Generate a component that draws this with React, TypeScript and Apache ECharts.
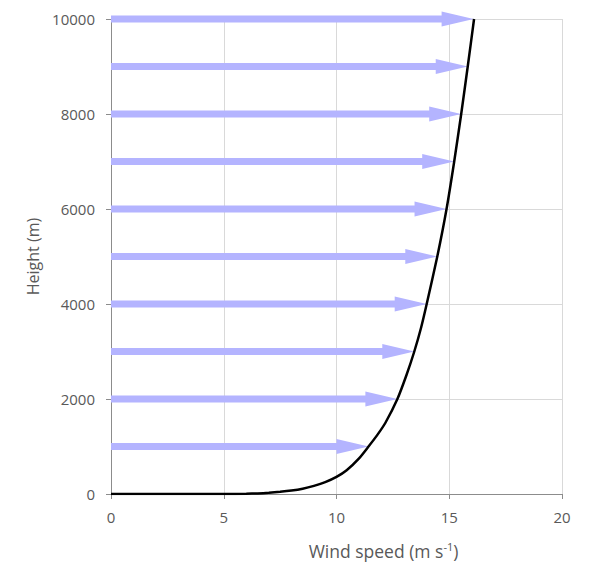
import React, { useEffect, useRef } from "react";
import * as echarts from "echarts";

const profileSpeed = [0, 3, 5, 6, 6.5, 7, 7.5, 8, 8.5, 9, 9.5, 10, 10.45, 11.0, 11.42, 11.82, 12.17, 12.7, 13.1, 13.45, 13.75, 14.0, 14.47, 14.88, 15.22, 15.53, 15.82, 16.1];
const profileHeight = [0, 0, 1, 5, 12, 25, 45, 72, 112, 172, 250, 360, 500, 750, 1000, 1250, 1500, 2000, 2500, 3000, 3500, 4000, 5000, 6000, 7000, 8000, 9000, 10000];

const arrowHeights = [1000, 2000, 3000, 4000, 5000, 6000, 7000, 8000, 9000, 10000];
const arrowSpeeds = [11.42, 12.7, 13.45, 14.0, 14.47, 14.88, 15.22, 15.53, 15.82, 16.08];

const xTicks = [0, 5, 10, 15, 20];
const yTicks = [0, 2000, 4000, 6000, 8000, 10000];

export default function App() {
  const ref = useRef<HTMLDivElement>(null);
  useEffect(() => {
    if (!ref.current) return;
    const chart = echarts.init(ref.current, null, { renderer: "svg" });
    const font = "'Open Sans', 'Liberation Sans', sans-serif";
    const labelColor = "#595959";
    chart.setOption({
      animation: false,
      grid: { left: 111, right: 28, top: 19, bottom: 84 },
      xAxis: {
        type: "value",
        min: xTicks[0],
        max: xTicks[xTicks.length - 1],
        interval: 5,
        name: "{a|Wind speed (m s}{s|-1}{a|)}",
        nameLocation: "middle",
        nameGap: 47,
        nameTextStyle: {
          padding: [0, 0, 0, 94],
          rich: {
            a: { fontSize: 17.5, color: labelColor, fontFamily: font },
            s: { fontSize: 11, color: labelColor, fontFamily: font, verticalAlign: "top", padding: [0, 0, 8, 0] },
          },
        },
        axisLine: { show: true, lineStyle: { color: "#8c8c8c", width: 1 } },
        axisTick: { show: true, length: 5, lineStyle: { color: "#8c8c8c" } },
        axisLabel: { color: labelColor, fontSize: 15, fontFamily: font, margin: 15, formatter: (v: number) => String(v) },
        splitLine: { show: true, lineStyle: { color: "#d9d9d9", width: 1 } },
      },
      yAxis: {
        type: "value",
        min: yTicks[0],
        max: yTicks[yTicks.length - 1],
        interval: 2000,
        name: "Height (m)",
        nameLocation: "middle",
        nameGap: 68,
        nameTextStyle: { fontSize: 16, color: labelColor, fontFamily: font },
        axisLine: { show: true, lineStyle: { color: "#8c8c8c", width: 1 } },
        axisTick: { show: true, length: 5, lineStyle: { color: "#8c8c8c" } },
        axisLabel: { color: labelColor, fontSize: 15, fontFamily: font, margin: 16, formatter: (v: number) => String(v) },
        splitLine: { show: true, lineStyle: { color: "#d9d9d9", width: 1 } },
      },
      series: [
        {
          type: "custom",
          data: arrowHeights.map((h, i) => [arrowSpeeds[i], h]),
          renderItem: (params: any, api: any) => {
            const u = api.value(0);
            const h = api.value(1);
            const start = api.coord([0, h]);
            const tip = api.coord([u, h]);
            const headLen = 32;
            const headHalf = 7.5;
            const shaftHalf = 3.5;
            const bx = tip[0] - headLen;
            const y = tip[1];
            return {
              type: "polygon",
              shape: {
                points: [
                  [start[0], y - shaftHalf],
                  [bx, y - shaftHalf],
                  [bx, y - headHalf],
                  [tip[0], y],
                  [bx, y + headHalf],
                  [bx, y + shaftHalf],
                  [start[0], y + shaftHalf],
                ],
              },
              style: { fill: "#b4b4ff" },
            };
          },
          z: 2,
        },
        {
          type: "line",
          data: profileSpeed.map((s, i) => [s, profileHeight[i]]),
          smooth: 0.2,
          showSymbol: false,
          lineStyle: { color: "#000000", width: 2.5 },
          z: 3,
        },
      ],
    });
    return () => chart.dispose();
  }, []);
  return <div ref={ref} style={{ width: 590, height: 578, margin: -8 }} />;
}
